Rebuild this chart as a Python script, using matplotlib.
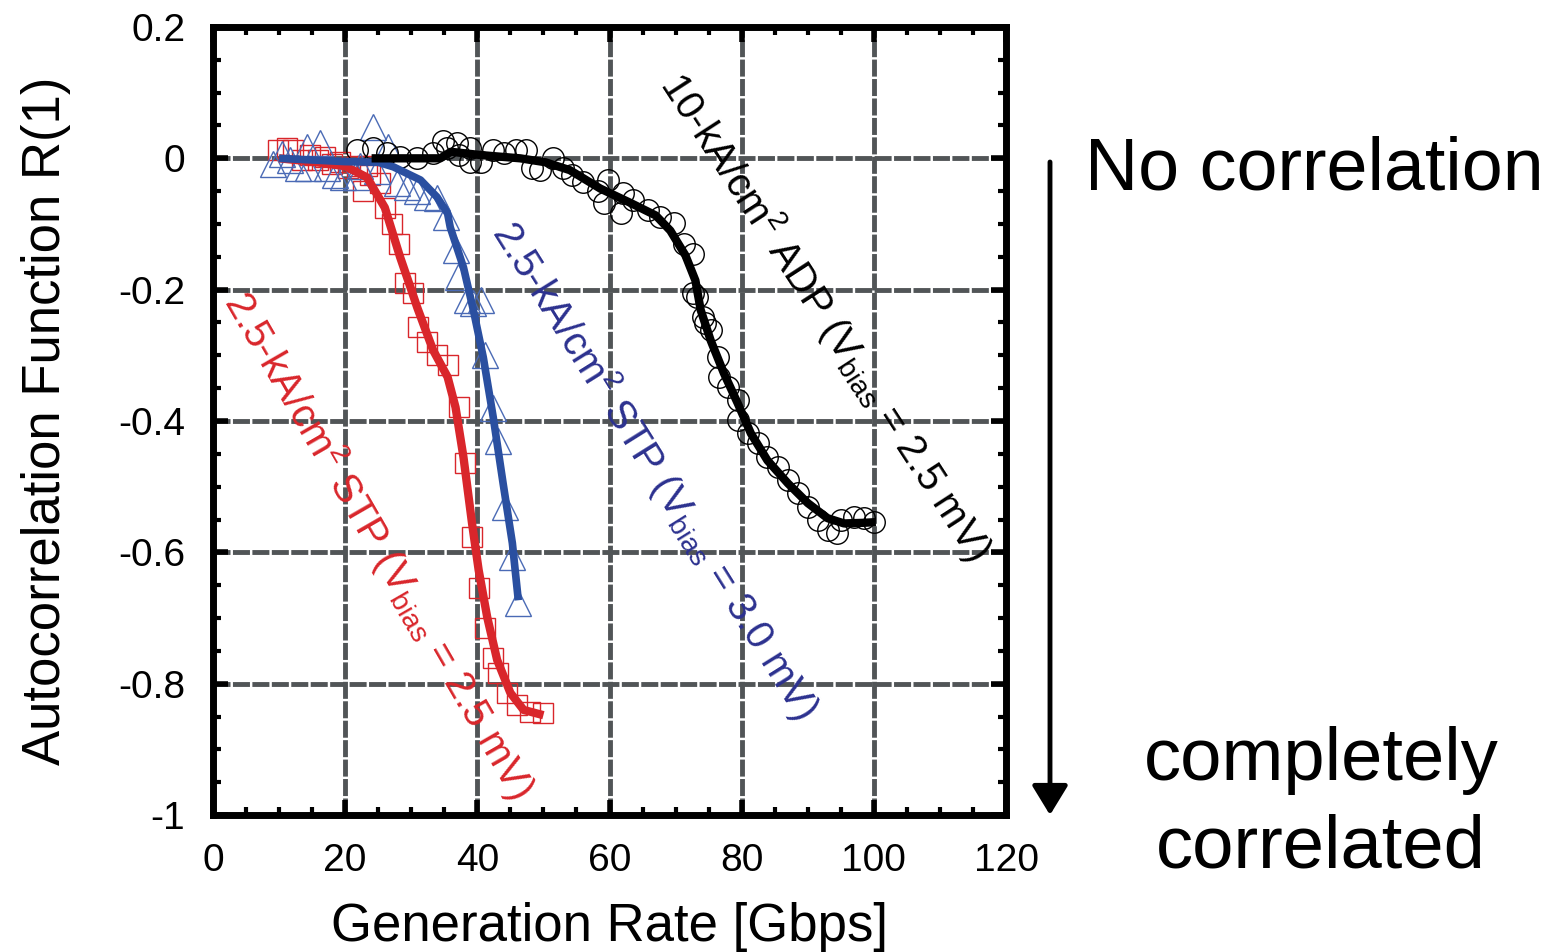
import matplotlib
matplotlib.use("Agg")
import matplotlib.pyplot as plt
from matplotlib.ticker import MultipleLocator

plt.rcParams['font.family'] = ['Liberation Sans', 'DejaVu Sans']
plt.rcParams['mathtext.fontset'] = 'custom'
plt.rcParams['mathtext.rm'] = 'Liberation Sans'
plt.rcParams['mathtext.it'] = 'Liberation Sans:italic'
plt.rcParams['mathtext.default'] = 'regular'

# red: 2.5-kA/cm2 STP, Vbias = 2.5 mV (squares + fitted line)
red_sq_x = [9.8, 11.2, 12.1, 13.5, 14.7, 15.9, 17.0, 18.0, 19.2, 20.5, 21.8, 22.7, 23.3, 23.8,
            25.3, 26.0, 27.1, 28.2, 29.1, 30.3, 31.0, 32.4, 33.9, 35.5, 37.3, 38.2, 39.2, 40.2,
            41.2, 42.3, 43.2, 44.5, 46.0, 48.0, 50.0]
red_sq_y = [0.012, 0.015, 0.012, -0.003, 0.005, -0.003, 0.002, -0.008, -0.006, -0.014, -0.011,
            -0.049, -0.011, -0.026, -0.037, -0.075, -0.1, -0.13, -0.19, -0.205, -0.257, -0.28,
            -0.30, -0.315, -0.379, -0.464, -0.577, -0.654, -0.715, -0.761, -0.784, -0.814,
            -0.832, -0.843, -0.845]
red_line_x = [10, 15, 20, 23.3, 26.0, 28.3, 30.0, 30.9, 33.3, 35.5, 36.7, 37.9, 39.2, 40.2,
              41.5, 43.0, 45.0, 47.0, 50.0]
red_line_y = [0.0, -0.005, -0.012, -0.029, -0.075, -0.15, -0.2, -0.227, -0.292, -0.333, -0.379,
              -0.455, -0.556, -0.627, -0.699, -0.764, -0.814, -0.840, -0.848]

# blue: 2.5-kA/cm2 STP, Vbias = 3.0 mV
blue_tri_x = [9.1, 10.5, 11.7, 12.9, 14.2, 14.4, 16.2, 17.3, 18.5, 19.7, 21.8, 22.3, 24.2, 24.8,
              26.5, 27.9, 29.4, 30.9, 32.4, 33.9, 35.2, 36.7, 37.1, 38.5, 39.4, 40.5, 41.2,
              42.3, 43.2, 44.2, 45.3, 46.2]
blue_tri_y = [-0.008, 0.007, -0.003, -0.014, 0.017, -0.015, 0.024, -0.014, -0.026, -0.029,
              -0.029, -0.011, 0.047, -0.019, 0.017, -0.038, -0.044, -0.049, -0.059, -0.061,
              -0.09, -0.14, -0.181, -0.216, -0.22, -0.216, -0.30, -0.38, -0.43, -0.531,
              -0.607, -0.677]
blue_line_x = [10, 20, 25, 27.3, 31.4, 33.9, 35.5, 35.9, 37.9, 39.4, 40.9, 42.4, 43.9, 45.3, 46.2]
blue_line_y = [0.0, -0.005, -0.006, -0.013, -0.033, -0.059, -0.084, -0.105, -0.166, -0.231,
               -0.303, -0.394, -0.495, -0.586, -0.673]

# black: 10-kA/cm2 ADP, Vbias = 2.5 mV
blk_circ_x = [21.8, 24.2, 26.4, 28.3, 30.9, 33.3, 34.8, 35.4, 36.9, 37.3, 38.9, 38.9, 40.5, 42.3,
              44.0, 45.8, 47.3, 48.3, 49.5, 51.4, 53.0, 54.4, 56.0, 58.2, 59.1, 59.7, 61.7,
              62.0, 63.6, 65.8, 67.7, 69.7, 71.2, 72.6, 72.7, 73.3, 74.2, 74.5, 75.3, 76.4,
              76.5, 77.9, 79.4, 79.4, 80.9, 82.4, 83.9, 85.5, 87.0, 88.5, 90.0, 91.5, 93.0,
              94.5, 95.0, 97.0, 98.5, 100.0]
blk_circ_y = [0.012, 0.015, 0.008, 0.002, 0.0, 0.008, 0.027, 0.015, 0.024, 0.005, 0.015, -0.006,
              -0.006, 0.012, 0.008, 0.012, 0.012, -0.014, -0.018, 0.0, -0.014, -0.026, -0.036,
              -0.049, -0.068, -0.033, -0.084, -0.053, -0.064, -0.079, -0.09, -0.099, -0.13,
              -0.145, -0.205, -0.211, -0.242, -0.251, -0.262, -0.303, -0.333, -0.348, -0.368,
              -0.399, -0.419, -0.434, -0.455, -0.47, -0.49, -0.51, -0.531, -0.551, -0.566,
              -0.571, -0.551, -0.546, -0.548, -0.554]
blk_line_x = [24, 30, 34.4, 36, 40.5, 46.5, 50.3, 54, 58.6, 63.2, 67, 69.2, 71.5, 73, 73.8, 75.3,
              77.3, 79.4, 81.4, 83.9, 87, 90, 93, 95.5, 98.5, 100.3]
blk_line_y = [0, 0, 0, 0.01, 0.005, 0, -0.006, -0.018, -0.046, -0.068, -0.087, -0.11, -0.148,
              -0.186, -0.231, -0.277, -0.327, -0.373, -0.419, -0.46, -0.495, -0.525, -0.548,
              -0.556, -0.555, -0.554]

xticks = [0, 20, 40, 60, 80, 100, 120]
xticklabels = ['0', '20', '40', '60', '80', '100', '120']
yticks = [0.2, 0, -0.2, -0.4, -0.6, -0.8, -1]
yticklabels = ['0.2', '0', '-0.2', '-0.4', '-0.6', '-0.8', '-1']

red = '#d9262b'
blue_line = '#2a4fa0'
blue_mk = '#4a6ab5'
blue_txt = '#2c318f'

fig = plt.figure(figsize=(15.57, 9.52), dpi=100)
ax = fig.add_axes([213 / 1557, 1 - 815 / 952, 793 / 1557, 788 / 952])

ax.set_xlim(0, 120)
ax.set_ylim(-1, 0.2)

# grid
ax.set_axisbelow(True)
ax.grid(True, which='major', color='#515557', linestyle=(0, (3.5, 0.5)), linewidth=3.5)

# markers first, lines on top
ax.plot(red_sq_x, red_sq_y, 's', ms=15, mfc='none', mec=red, mew=1.0, zorder=3)
ax.plot(blue_tri_x, blue_tri_y, '^', ms=19, mfc='none', mec=blue_mk, mew=1.0, zorder=3)
ax.plot(blk_circ_x, blk_circ_y, 'o', ms=15.5, mfc='none', mec='black', mew=1.0, zorder=3)
ax.plot(red_line_x, red_line_y, '-', color=red, lw=6, solid_capstyle='butt', zorder=4)
ax.plot(blue_line_x, blue_line_y, '-', color=blue_line, lw=5.5, solid_capstyle='butt', zorder=4)
ax.plot(blk_line_x, blk_line_y, '-', color='black', lw=6, solid_capstyle='butt', zorder=4)

# ticks
ax.set_xticks(xticks)
ax.set_xticklabels(xticklabels)
ax.set_yticks(yticks)
ax.set_yticklabels(yticklabels)
ax.xaxis.set_minor_locator(MultipleLocator(5))
ax.yaxis.set_minor_locator(MultipleLocator(0.05))
ax.tick_params(which='major', direction='in', length=11, width=4, top=True, right=True,
               labelsize=28, pad=20)
ax.tick_params(which='minor', direction='in', length=6, width=3, top=True, right=True)
for s in ax.spines.values():
    s.set_linewidth(5)

ax.set_xlabel('Generation Rate [Gbps]', fontsize=38, labelpad=17)
ax.set_ylabel('Autocorrelation Function R(1)', fontsize=38, labelpad=34)

# rotated curve labels
ax.text(92.8, -0.240, r'10-kA/cm$^2$ ADP (V$_{bias}$ = 2.5 mV)', color='black', fontsize=29,
        rotation=-57, rotation_mode='anchor', ha='center', va='center', zorder=5)
ax.text(67.0, -0.475, r'2.5-kA/cm$^2$ STP (V$_{bias}$ = 3.0 mV)', color=blue_txt, fontsize=29,
        rotation=-58, rotation_mode='anchor', ha='center', va='center', zorder=5)
ax.text(25.3, -0.589, r'2.5-kA/cm$^2$ STP (V$_{bias}$ = 2.5 mV)', color=red, fontsize=29,
        rotation=-60, rotation_mode='anchor', ha='center', va='center', zorder=5)

# right-hand annotation
fig.text(1314 / 1557, 1 - 190 / 952, 'No correlation', fontsize=53, ha='center', va='baseline')
fig.text(1321 / 1557, 1 - 780 / 952, 'completely', fontsize=53.5, ha='center', va='baseline')
fig.text(1321 / 1557, 1 - 867 / 952, 'correlated', fontsize=53.5, ha='center', va='baseline')
fig.add_artist(matplotlib.patches.FancyArrowPatch(
    (1050 / 1557, 1 - 162 / 952), (1050 / 1557, 1 - 815 / 952),
    transform=fig.transFigure, arrowstyle='-|>,head_length=0.9,head_width=0.55',
    mutation_scale=20, color='black', lw=3.5, shrinkA=0, shrinkB=0))

fig.savefig('out.png', dpi=100)
